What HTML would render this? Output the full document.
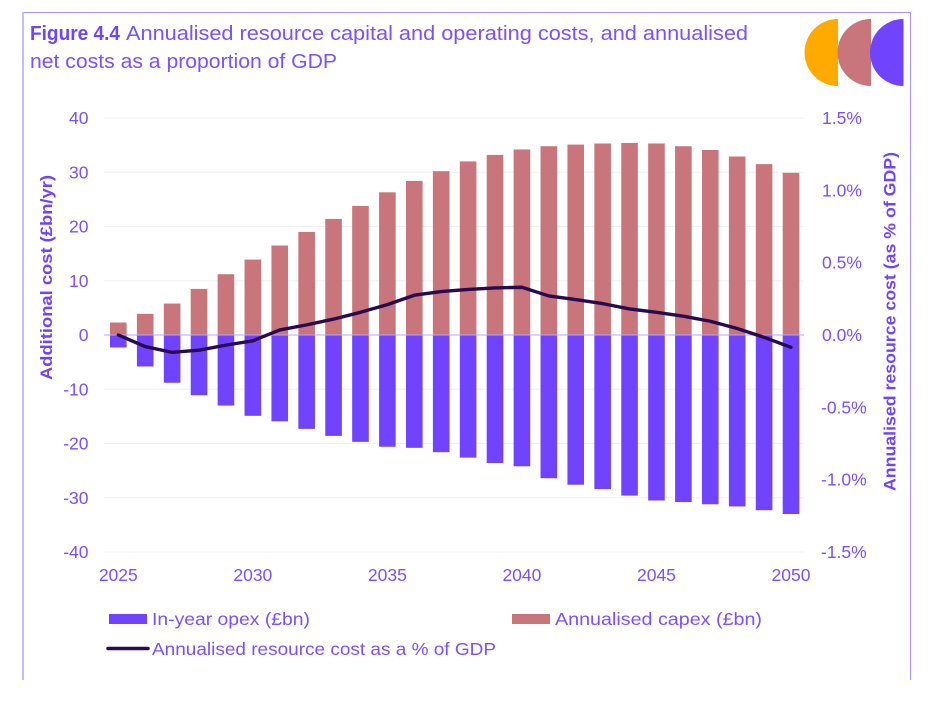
<!DOCTYPE html>
<html lang="en">
<head>
<meta charset="utf-8">
<title>Figure 4.4</title>
<style>
html,body{margin:0;padding:0;background:#fff;width:939px;height:702px;overflow:hidden}
svg{display:block}
text{font-family:"Liberation Sans",sans-serif;fill:#7a50ff}
</style>
</head>
<body>
<svg id="chart" width="939" height="702" viewBox="0 0 939 702" xmlns="http://www.w3.org/2000/svg">
  <g>
    <line x1="23" y1="12.5" x2="911" y2="12.5" stroke="#ab94ff" stroke-width="1"/>
    <line x1="23" y1="12" x2="23" y2="680" stroke="#c9baff" stroke-width="2"/>
    <line x1="910.5" y1="12" x2="910.5" y2="680" stroke="#ab94ff" stroke-width="1"/>
  </g>
  <g>
    <text x="30" y="40" font-size="20" font-weight="700" textLength="90" lengthAdjust="spacingAndGlyphs" style="fill:#7044ff">Figure 4.4</text>
    <text x="126" y="40" font-size="20" textLength="622" lengthAdjust="spacingAndGlyphs">Annualised resource capital and operating costs, and annualised</text>
    <text x="30" y="68" font-size="20" textLength="307" lengthAdjust="spacingAndGlyphs">net costs as a proportion of GDP</text>
  </g>
  <g>
    <path d="M838 19 A33.5 33.5 0 0 0 838 86 Z" fill="#ffaa00"/>
    <path d="M871 19 A33.5 33.5 0 0 0 871 86 Z" fill="#c8767c"/>
    <path d="M903.5 19 A33.5 33.5 0 0 0 903.5 86 Z" fill="#7044ff"/>
  </g>
  <g id="grid"></g>
  <g id="capex"></g>
  <g id="opex"></g>
  <line id="zero" stroke="#b9a5ff" stroke-width="1"/>
  <path id="netLine" fill="none" stroke="#2a0a4e" stroke-width="3.4" stroke-linecap="round" stroke-linejoin="round"/>
  <g id="leftTicks"></g>
  <g id="rightTicks"></g>
  <g id="xTicks"></g>
  <text transform="translate(52,380) rotate(-90)" font-size="17" font-weight="700" textLength="205" lengthAdjust="spacingAndGlyphs" style="fill:#7044ff">Additional cost (£bn/yr)</text>
  <text transform="translate(895.5,491) rotate(-90)" font-size="17" font-weight="700" textLength="339" lengthAdjust="spacingAndGlyphs" style="fill:#7044ff">Annualised resource cost (as % of GDP)</text>
  <g>
    <rect x="109" y="614" width="38" height="10" fill="#7044ff"/>
    <text x="152" y="625" font-size="17.5" textLength="158" lengthAdjust="spacingAndGlyphs">In-year opex (£bn)</text>
    <rect x="512" y="614" width="38" height="10" fill="#c8767c"/>
    <text x="555" y="625" font-size="17.5" textLength="207" lengthAdjust="spacingAndGlyphs">Annualised capex (£bn)</text>
    <line x1="108" y1="648.5" x2="148" y2="648.5" stroke="#2a0a4e" stroke-width="3.4" stroke-linecap="round"/>
    <text x="152" y="655" font-size="17.5" textLength="344" lengthAdjust="spacingAndGlyphs">Annualised resource cost as a % of GDP</text>
  </g>
</svg>
<script>
const years = [2025,2026,2027,2028,2029,2030,2031,2032,2033,2034,2035,2036,2037,2038,2039,2040,2041,2042,2043,2044,2045,2046,2047,2048,2049,2050];
const capexValues = [2.3,3.9,5.8,8.5,11.2,13.9,16.5,19.0,21.4,23.8,26.3,28.4,30.2,32.0,33.2,34.2,34.8,35.1,35.3,35.4,35.3,34.8,34.1,32.9,31.5,29.9];
const opexValues = [-2.3,-5.8,-8.8,-11.1,-13.0,-14.9,-15.9,-17.3,-18.6,-19.7,-20.6,-20.8,-21.6,-22.6,-23.6,-24.2,-26.4,-27.6,-28.4,-29.6,-30.5,-30.8,-31.2,-31.6,-32.3,-33.0];
const netCostPercent = [0,-0.08,-0.12,-0.105,-0.07,-0.04,0.035,0.07,0.11,0.157,0.21,0.275,0.30,0.315,0.325,0.33,0.27,0.245,0.217,0.18,0.157,0.13,0.095,0.045,-0.016,-0.085];
const leftTickValues = [40,30,20,10,0,-10,-20,-30,-40];
const rightTickValues = [1.5,1.0,0.5,0.0,-0.5,-1.0,-1.5];
const xTickYears = [2025,2030,2035,2040,2045,2050];

const NS = 'http://www.w3.org/2000/svg';
function xScale(year){ return 118.3 + (year - 2025) * (791 - 118.3) / 25; }
function yLeft(v){ return 335 - v * (552 - 118) / 80; }
function yRight(v){ return 335 - v * (552 - 118) / 3; }
const plotLeft = 104, plotRight = 804, barWidth = 16.6;

function make(tag, parent, attrs, text){
  const el = document.createElementNS(NS, tag);
  for (const k in attrs) el.setAttribute(k, attrs[k]);
  if (text !== undefined) el.textContent = text;
  parent.appendChild(el);
  return el;
}

const grid = document.getElementById('grid');
leftTickValues.forEach(function(v){
  const el = make('line', grid, {x1: plotLeft, x2: plotRight, y1: yLeft(v), y2: yLeft(v), stroke: '#f0f0f2', 'stroke-width': 1});
  
  
});

const capexGroup = document.getElementById('capex');
capexValues.forEach(function(v, i){
  const top = yLeft(v);
  const el = make('rect', capexGroup, {x: xScale(years[i]) - barWidth / 2, y: top, width: barWidth, height: yLeft(0) - top, fill: '#c8767c'});
  
  
});

const opexGroup = document.getElementById('opex');
opexValues.forEach(function(v, i){
  const el = make('rect', opexGroup, {x: xScale(years[i]) - barWidth / 2, y: yLeft(0), width: barWidth, height: yLeft(v) - yLeft(0), fill: '#7044ff'});
  
  
});

const zero = document.getElementById('zero');
zero.setAttribute('x1', plotLeft);
zero.setAttribute('x2', plotRight);
zero.setAttribute('y1', yLeft(0));
zero.setAttribute('y2', yLeft(0));

document.getElementById('netLine').setAttribute('d', netCostPercent.map(function(v, i){
  return (i ? 'L' : 'M') + xScale(years[i]).toFixed(2) + ' ' + yRight(v).toFixed(2);
}).join(' '));

const leftTicks = document.getElementById('leftTicks');
leftTickValues.forEach(function(v){
  const el = make('text', leftTicks, {x: 88.5, y: yLeft(v) + 6, 'text-anchor': 'end', 'font-size': 17.5}, String(v));
  
  
});

const rightTicks = document.getElementById('rightTicks');
rightTickValues.forEach(function(v){
  const el = make('text', rightTicks, {x: v < 0 ? 821 : 822, y: yRight(v) + 6, 'font-size': 17.5}, v.toFixed(1) + '%');
  
  
});

const xTicks = document.getElementById('xTicks');
xTickYears.forEach(function(y){
  const el = make('text', xTicks, {x: xScale(y), y: 581, 'text-anchor': 'middle', 'font-size': 17.5}, String(y));
  
  
});
</script>
</body>
</html>
